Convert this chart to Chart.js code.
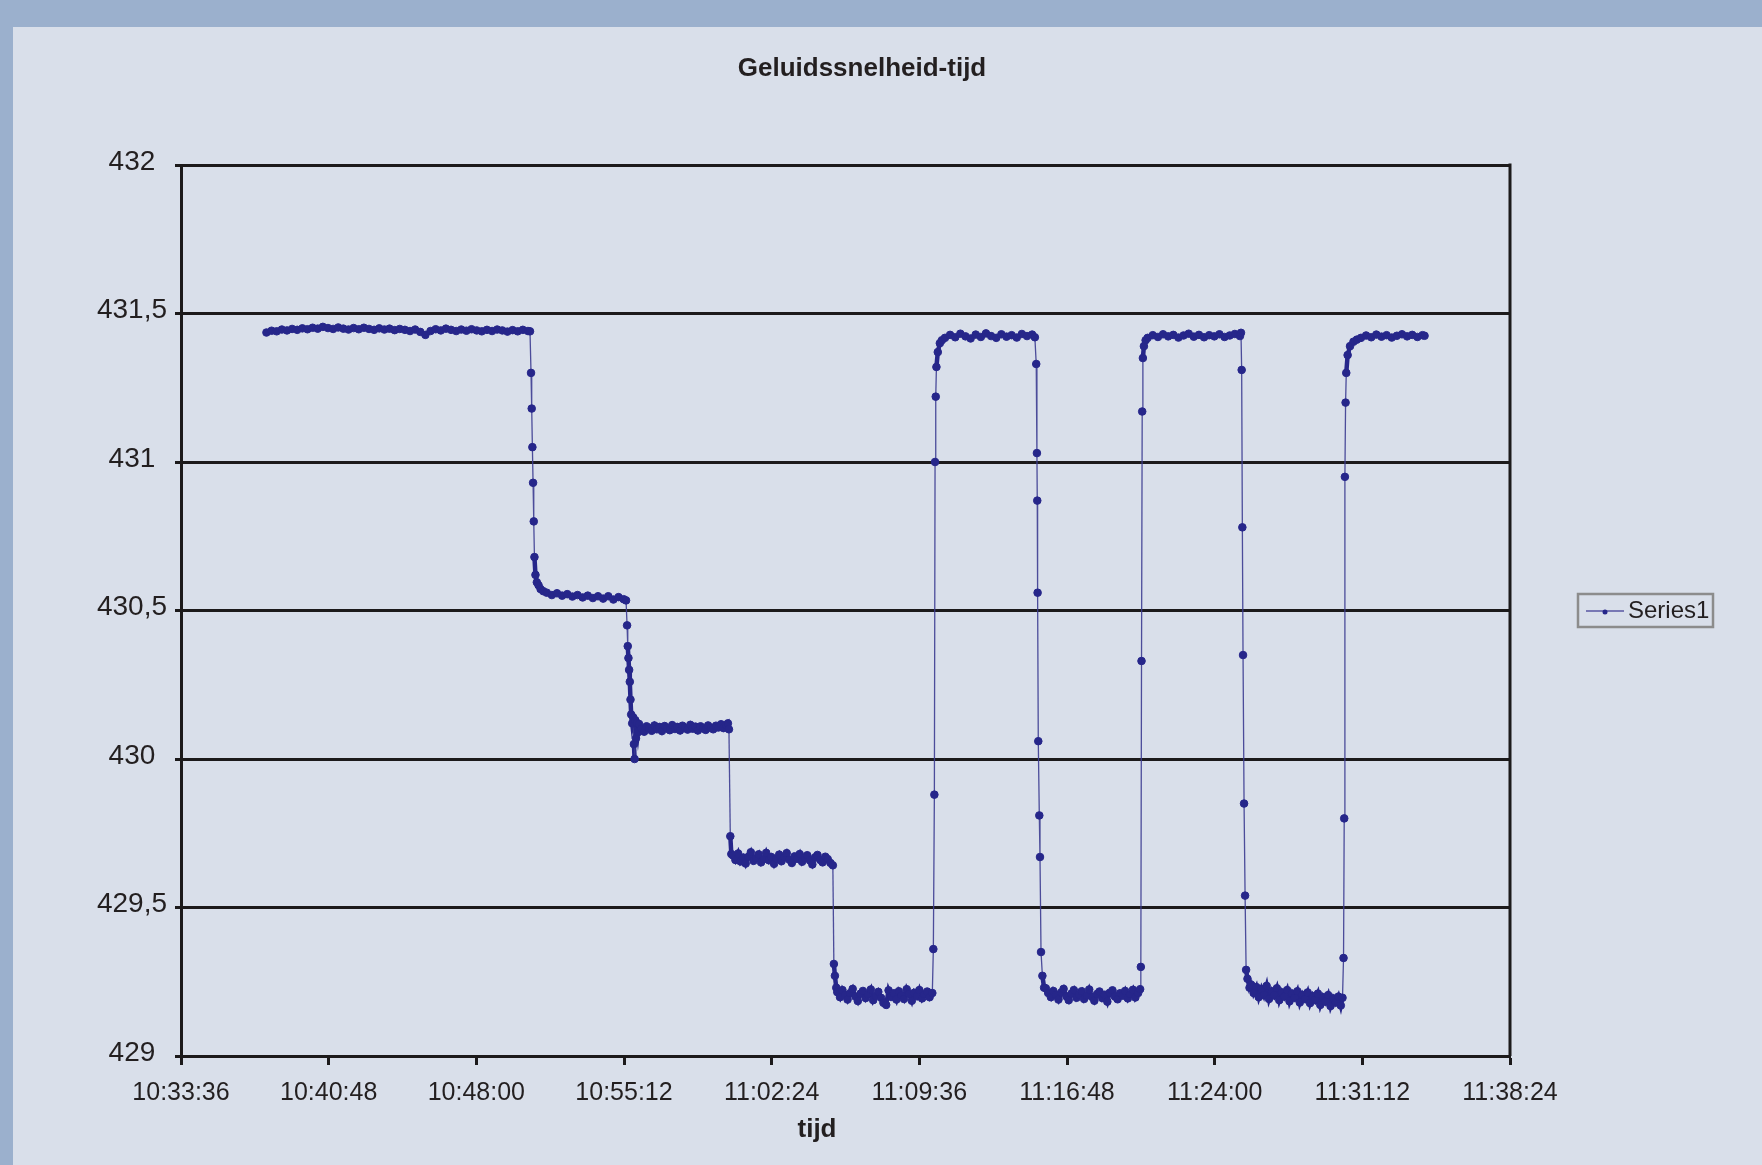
<!DOCTYPE html>
<html>
<head>
<meta charset="utf-8">
<title>Geluidssnelheid-tijd</title>
<script src="https://cdn.jsdelivr.net/npm/chart.js@4.4.1/dist/chart.umd.min.js"></script>
<style>
  html, body { margin: 0; padding: 0; }
  body { width: 1762px; height: 1165px; background: #9bb0cd; position: relative; overflow: hidden; }
  #paneel { position: absolute; left: 13px; top: 27px; right: 0; bottom: 0; background: #d9dfea; }
  #grafiek { position: absolute; left: 0; top: 0; }
</style>
</head>
<body>
<div id="paneel"></div>
<canvas id="grafiek" width="1762" height="1165"></canvas>
<script>
// titels
const titel = 'Geluidssnelheid-tijd';
const asTitel = 'tijd';
const reeksNaam = 'Series1';

// as-labels (x: 7:12 per stap vanaf 10:33:36, seconden na de start)
const tijdLabels = ['10:33:36', '10:40:48', '10:48:00', '10:55:12', '11:02:24',
                    '11:09:36', '11:16:48', '11:24:00', '11:31:12', '11:38:24'];
const snelheidLabels = ['429', '429,5', '430', '430,5', '431', '431,5', '432'];

// metingen: [seconden na 10:33:36, geluidssnelheid]
const stap1 = [[250,431.436],[265,431.442],[280,431.440],[295,431.446],[310,431.443],[325,431.448],[340,431.445],
  [355,431.450],[370,431.447],[385,431.452],[400,431.449],[415,431.455],[430,431.451],[445,431.448],[460,431.453],
  [475,431.449],[490,431.446],[505,431.451],[520,431.447],[535,431.452],[550,431.448],[565,431.445],[580,431.450],
  [595,431.446],[610,431.449],[625,431.444],[640,431.448],[655,431.445],[670,431.441],[685,431.446],[700,431.438],
  [715,431.428],[730,431.441],[745,431.447],[760,431.443],[775,431.449],[790,431.445],[805,431.441],[820,431.446],
  [835,431.442],[850,431.447],[865,431.443],[880,431.440],[895,431.445],[910,431.441],[925,431.446],[940,431.443],
  [955,431.439],[970,431.444],[985,431.440],[1000,431.445],[1015,431.441],[1021,431.440]];
const overgang1 = [[1024,431.30],[1026,431.18],[1028,431.05],[1030,430.93],[1032,430.80],[1034,430.68],
  [1037,430.62],[1041,430.595],[1046,430.585],[1052,430.572],[1060,430.565]];
const stap2 = [[1070,430.560],[1085,430.552],[1100,430.558],[1115,430.550],[1130,430.555],[1145,430.547],
  [1160,430.552],[1175,430.544],[1190,430.550],[1205,430.542],[1220,430.548],[1235,430.540],[1250,430.548],
  [1265,430.537],[1280,430.545],[1295,430.538],[1302,430.534]];
const overgang2 = [[1305,430.45],[1307,430.38],[1309,430.34],[1311,430.30],[1313,430.26],[1315,430.20],
  [1317,430.15],[1320,430.12],[1323,430.14],[1325,430.05],[1327,430.00],[1329,430.13],[1331,430.07],
  [1334,430.12],[1337,430.09]];
const stap3 = [[1340,430.118],[1347,430.102],[1355,430.092],[1362,430.110],[1370,430.104],[1377,430.095],
  [1385,430.113],[1392,430.100],[1400,430.108],[1407,430.094],[1415,430.111],[1422,430.103],[1430,430.097],
  [1437,430.114],[1445,430.101],[1452,430.108],[1460,430.096],[1467,430.112],[1475,430.104],[1482,430.099],
  [1490,430.115],[1497,430.102],[1505,430.109],[1512,430.096],[1520,430.110],[1527,430.103],[1535,430.098],
  [1542,430.113],[1550,430.105],[1557,430.100],[1565,430.112],[1572,430.106],[1580,430.117],[1587,430.104],
  [1595,430.114],[1600,430.120],[1603,430.100]];
const overgang3 = [[1607,429.74],[1610,429.68]];
const stap4 = [[1615,429.675],[1622,429.660],[1630,429.682],[1637,429.655],[1645,429.668],[1652,429.648],
  [1660,429.671],[1667,429.686],[1675,429.657],[1682,429.666],[1690,429.679],[1697,429.652],[1705,429.663],
  [1712,429.684],[1720,429.659],[1727,429.670],[1735,429.647],[1742,429.665],[1750,429.678],[1757,429.656],
  [1765,429.669],[1772,429.683],[1780,429.661],[1787,429.650],[1795,429.672],[1802,429.664],[1810,429.680],
  [1817,429.654],[1825,429.667],[1832,429.676],[1840,429.658],[1847,429.645],[1855,429.669],[1862,429.677],
  [1870,429.660],[1877,429.652],[1885,429.671],[1892,429.663],[1900,429.650],[1907,429.642]];
const overgang4 = [[1910,429.31],[1913,429.27],[1917,429.23]];
const stap5 = [[1920,429.215],[1928,429.198],[1935,429.222],[1943,429.206],[1950,429.190],[1958,429.212],
  [1965,429.226],[1973,429.200],[1980,429.185],[1988,429.210],[1995,429.219],[2003,429.195],[2010,429.208],
  [2018,429.224],[2025,429.188],[2033,429.203],[2040,429.216],[2048,429.196],[2055,429.179],[2063,429.172],
  [2070,429.221],[2078,429.199],[2085,429.211],[2093,429.190],[2100,429.218],[2108,429.204],[2115,429.192],
  [2123,429.225],[2130,429.209],[2138,429.186],[2145,429.213],[2153,429.201],[2160,429.222],[2168,429.194],
  [2175,429.208],[2183,429.217],[2190,429.198],[2198,429.212]];
const overgang5 = [[2201,429.36],[2204,429.88],[2206,431.00],[2208,431.22],[2210,431.32],[2214,431.37],
  [2220,431.40],[2226,431.41]];
const stap6 = [[2235,431.418],[2250,431.428],[2265,431.420],[2280,431.432],[2295,431.423],[2310,431.416],
  [2325,431.429],[2340,431.421],[2355,431.433],[2370,431.424],[2385,431.418],[2400,431.430],[2415,431.422],
  [2430,431.427],[2445,431.419],[2460,431.431],[2475,431.424],[2490,431.429],[2498,431.420]];
const overgang6 = [[2502,431.33],[2504,431.03],[2505,430.87],[2506,430.56],[2508,430.06],[2511,429.81],
  [2513,429.67],[2516,429.35],[2520,429.27],[2525,429.23]];
const stap7 = [[2530,429.228],[2537,429.212],[2545,429.198],[2552,429.219],[2560,429.205],[2567,429.190],
  [2575,429.214],[2582,429.226],[2590,429.201],[2597,429.188],[2605,429.210],[2612,429.222],[2620,429.196],
  [2627,429.207],[2635,429.218],[2642,429.192],[2650,429.204],[2657,429.224],[2665,429.199],[2672,429.186],
  [2680,429.209],[2687,429.217],[2695,429.195],[2702,429.206],[2710,429.183],[2717,429.213],[2725,429.221],
  [2732,429.200],[2740,429.191],[2747,429.211],[2755,429.203],[2762,429.219],[2770,429.194],[2777,429.208],
  [2785,429.223],[2792,429.197],[2800,429.212],[2806,429.225]];
const overgang7 = [[2808,429.30],[2810,430.33],[2812,431.17],[2814,431.35],[2817,431.39],[2822,431.41]];
const stap8 = [[2828,431.418],[2843,431.427],[2858,431.421],[2873,431.430],[2888,431.423],[2903,431.428],
  [2918,431.419],[2933,431.426],[2948,431.432],[2963,431.422],[2978,431.428],[2993,431.420],[3008,431.427],
  [3023,431.423],[3038,431.430],[3053,431.421],[3068,431.426],[3083,431.431],[3098,431.424],[3101,431.435]];
const overgang8 = [[3103,431.31],[3105,430.78],[3107,430.35],[3110,429.85],[3113,429.54],[3116,429.29],
  [3120,429.26],[3126,429.23]];
const stap9 = [[3131,429.240],[3138,429.212],[3146,429.232],[3153,429.198],[3161,429.226],[3168,429.205],
  [3176,429.236],[3183,429.192],[3191,429.218],[3198,429.204],[3206,429.228],[3213,429.188],[3221,429.214],
  [3228,429.200],[3236,429.222],[3243,429.184],[3251,429.210],[3258,429.196],[3266,429.218],[3273,429.180],
  [3281,429.206],[3288,429.192],[3296,429.214],[3303,429.178],[3311,429.202],[3318,429.188],[3326,429.210],
  [3333,429.172],[3341,429.198],[3348,429.183],[3356,429.205],[3363,429.168],[3371,429.194],[3378,429.180],
  [3386,429.200],[3393,429.170],[3398,429.196]];
const overgang9 = [[3401,429.33],[3403,429.80],[3405,430.95],[3407,431.20],[3409,431.30],[3413,431.36],
  [3420,431.39],[3430,431.405],[3440,431.412]];
const stap10 = [[3452,431.418],[3467,431.426],[3482,431.420],[3497,431.429],[3512,431.422],[3527,431.427],
  [3542,431.419],[3557,431.425],[3572,431.430],[3587,431.423],[3602,431.428],[3617,431.421],[3632,431.427],
  [3638,431.425]];

const alleStukken = [stap1, overgang1, stap2, overgang2, stap3, overgang3, stap4, overgang4, stap5,
  overgang5, stap6, overgang6, stap7, overgang7, stap8, overgang8, stap9, overgang9, stap10];

let punten = [];
for (let stuk of alleStukken) {
  for (let p of stuk) {
    punten.push({ x: p[0], y: p[1] });
  }
}

const lijnKleur = 'rgba(60, 60, 145, 0.9)';
const puntKleur = '#26268a';
const tekstKleur = '#231f20';
const asKleur = '#1c1a1b';

// titel, as-titel, rechterrand en legenda zelf tekenen (Excel-opmaak)
const kaderPlugin = {
  id: 'kader',
  afterDraw(chart) {
    const ctx = chart.ctx;
    const a = chart.chartArea;
    ctx.save();

    ctx.strokeStyle = asKleur;
    ctx.lineWidth = 3;
    ctx.beginPath();
    ctx.moveTo(a.right, a.top - 1.5);
    ctx.lineTo(a.right, a.bottom);
    ctx.stroke();

    ctx.fillStyle = tekstKleur;
    ctx.textAlign = 'center';
    ctx.textBaseline = 'middle';
    ctx.font = 'bold 26px "Liberation Sans", Arial, sans-serif';
    ctx.fillText(titel, 862, 69);
    ctx.fillText(asTitel, 817, 1130);

    // legenda
    ctx.strokeStyle = '#8c8c8c';
    ctx.lineWidth = 2.5;
    ctx.strokeRect(1578, 594, 135, 33);
    ctx.strokeStyle = '#7878b4';
    ctx.lineWidth = 2;
    ctx.beginPath();
    ctx.moveTo(1586, 611);
    ctx.lineTo(1624, 611);
    ctx.stroke();
    ctx.fillStyle = puntKleur;
    ctx.beginPath();
    ctx.arc(1605, 612, 2.5, 0, Math.PI * 2);
    ctx.fill();
    ctx.fillStyle = tekstKleur;
    ctx.textAlign = 'left';
    ctx.font = '24px "Liberation Sans", Arial, sans-serif';
    ctx.fillText(reeksNaam, 1628, 611);

    ctx.restore();
  }
};

const ctx = document.getElementById('grafiek');

new Chart(ctx, {
  type: 'line',
  data: {
    datasets: [{
      label: reeksNaam,
      data: punten,
      borderColor: lijnKleur,
      borderWidth: 1.3,
      pointRadius: 3.8,
      pointBackgroundColor: puntKleur,
      pointBorderColor: puntKleur,
      pointBorderWidth: 1,
      tension: 0,
      // vlakke stukken dik, steile sprongen dun
      segment: {
        borderWidth: c => Math.abs(c.p1.y - c.p0.y) > 18 ? 1.3 : 4.5,
        borderColor: c => Math.abs(c.p1.y - c.p0.y) > 18 ? lijnKleur : puntKleur
      }
    }]
  },
  options: {
    responsive: false,
    devicePixelRatio: 1,
    animation: false,
    layout: {
      padding: { left: 0, top: 165, right: 252, bottom: 0 }
    },
    plugins: {
      legend: { display: false },
      title: { display: false },
      tooltip: { enabled: false }
    },
    scales: {
      x: {
        type: 'linear',
        min: 0,
        max: 3888,
        afterFit: function(scale) { scale.height = 109; },
        afterBuildTicks: function(scale) {
          scale.ticks = tijdLabels.map((l, i) => ({ value: i * 432 }));
        },
        ticks: {
          color: tekstKleur,
          font: { family: '"Liberation Sans", Arial, sans-serif', size: 25 },
          padding: 13,
          maxRotation: 0,
          autoSkip: false,
          callback: function(v, i) { return tijdLabels[i]; }
        },
        grid: {
          drawOnChartArea: false,
          drawTicks: true,
          tickLength: 9,
          tickColor: asKleur,
          tickWidth: 3
        },
        border: { display: true, color: asKleur, width: 3 }
      },
      y: {
        min: 429,
        max: 432,
        afterFit: function(scale) { scale.width = 181; },
        afterBuildTicks: function(scale) {
          scale.ticks = snelheidLabels.map((l, i) => ({ value: 429 + i * 0.5 }));
        },
        ticks: {
          color: tekstKleur,
          font: { family: '"Liberation Sans", Arial, sans-serif', size: 28 },
          crossAlign: 'center',
          padding: 8,
          labelOffset: -3,
          callback: function(v, i) { return snelheidLabels[i]; }
        },
        grid: {
          color: asKleur,
          lineWidth: 3,
          tickLength: 6,
          tickColor: asKleur,
          tickWidth: 3
        },
        border: { display: true, color: asKleur, width: 3 }
      }
    }
  },
  plugins: [kaderPlugin]
});
</script>
</body>
</html>
